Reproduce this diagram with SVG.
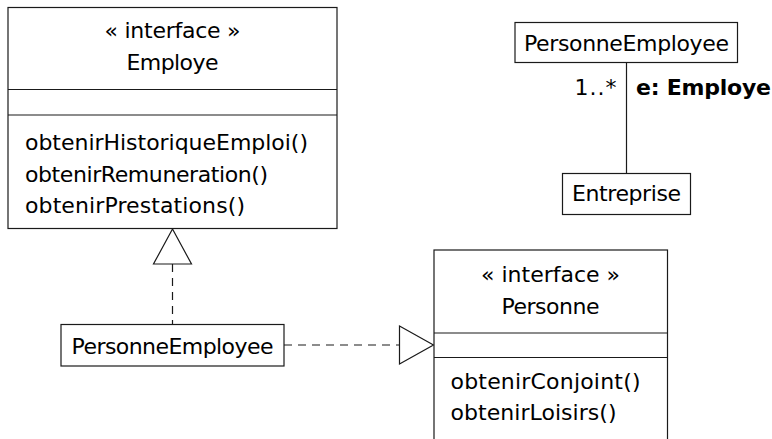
<svg xmlns="http://www.w3.org/2000/svg" width="772" height="439" viewBox="0 0 772 439">
<style>
.box{fill:#fff;stroke:#1a1a1a;stroke-width:1.2}
.ln{stroke:#1a1a1a;stroke-width:1.2;fill:none}
.dash{stroke:#1a1a1a;stroke-width:1.2;fill:none;stroke-dasharray:8 6}
.tri{fill:#fff;stroke:#1a1a1a;stroke-width:1.2}
text{font-family:"DejaVu Sans","Liberation Sans",sans-serif;font-size:22px;fill:#000}
.c{text-anchor:middle}
.b{font-weight:bold}
</style>
<rect width="772" height="439" fill="#fff"/>
<g id="connectors">
  <line class="dash" x1="172.5" y1="264" x2="172.5" y2="324.5"/>
  <polygon class="tri" points="172.5,229 153.5,264 191.5,264"/>
  <line class="dash" x1="284" y1="345" x2="399.5" y2="345"/>
  <polygon class="tri" points="433.5,345 399.5,326 399.5,364"/>
  <line class="ln" x1="626.5" y1="62.5" x2="626.5" y2="173.5"/>
  <text x="616.5" y="95" text-anchor="end" textLength="42">1..*</text>
  <text class="b" x="636" y="95" textLength="135">e: Employe</text>
</g>
<g id="employe">
  <rect class="box" x="8" y="7.5" width="329" height="221"/>
  <line class="ln" x1="8" y1="89.5" x2="337" y2="89.5"/>
  <line class="ln" x1="8" y1="115" x2="337" y2="115"/>
  <text class="c" x="172.5" y="37.5" textLength="136">« interface »</text>
  <text class="c" x="172.5" y="70" textLength="92">Employe</text>
  <text x="25" y="150" textLength="283">obtenirHistoriqueEmploi()</text>
  <text x="25" y="181.5" textLength="243">obtenirRemuneration()</text>
  <text x="25" y="213" textLength="220">obtenirPrestations()</text>
</g>
<g id="personneEmployee">
  <rect class="box" x="61" y="324.5" width="223" height="41.5"/>
  <text class="c" x="172.5" y="354" textLength="202">PersonneEmployee</text>
</g>
<g id="personne">
  <rect class="box" x="434" y="250" width="233.5" height="200"/>
  <line class="ln" x1="434" y1="333" x2="667.5" y2="333"/>
  <line class="ln" x1="434" y1="357.5" x2="667.5" y2="357.5"/>
  <text class="c" x="550.5" y="282" textLength="139">« interface »</text>
  <text class="c" x="550.5" y="314" textLength="98">Personne</text>
  <text x="450.5" y="389" textLength="190">obtenirConjoint()</text>
  <text x="450.5" y="420" textLength="166">obtenirLoisirs()</text>
</g>
<g id="personneEmployee2">
  <rect class="box" x="515" y="22.5" width="222.5" height="40"/>
  <text class="c" x="626.5" y="51" textLength="205">PersonneEmployee</text>
</g>
<g id="entreprise">
  <rect class="box" x="562.5" y="173.5" width="128" height="41"/>
  <text class="c" x="626.5" y="200.5" textLength="109">Entreprise</text>
</g>
</svg>
